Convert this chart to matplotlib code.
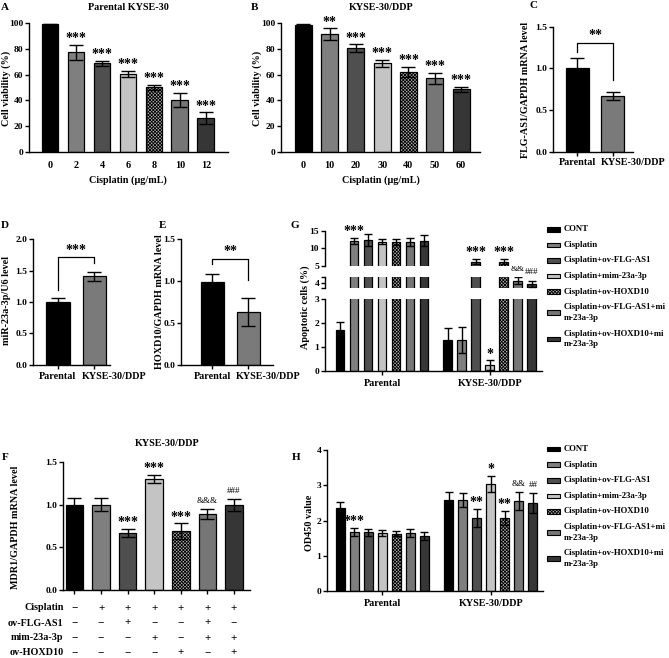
import matplotlib
matplotlib.use("Agg")
import matplotlib.pyplot as plt
import matplotlib.transforms as mtransforms
from matplotlib.patches import Rectangle

plt.rcParams['font.family'] = ['Liberation Serif', 'DejaVu Serif']
plt.rcParams['font.weight'] = 'bold'
plt.rcParams['axes.labelweight'] = 'bold'
plt.rcParams['hatch.linewidth'] = 0.6

W, H = 669, 658
FS = 7.3      # titles, axis labels
TFS = 6.8     # tick labels
LFS = 6.3     # legend text

# ---- data ----
a_doses = ['0', '2', '4', '6', '8', '10', '12']
a_vals = [99.2, 77.4, 68.8, 60.5, 50.1, 40.3, 26.0]
a_err = [0.5, 6.0, 2.0, 2.4, 2.0, 5.7, 4.6]
a_sig = ['', '***', '***', '***', '***', '***', '***']

b_doses = ['0', '10', '20', '30', '40', '50', '60']
b_vals = [98.7, 91.4, 80.5, 68.8, 62.3, 57.1, 48.5]
b_err = [0.6, 4.7, 3.0, 2.6, 4.0, 4.4, 2.0]
b_sig = ['', '**', '***', '***', '***', '***', '***']

cells = ['Parental', 'KYSE-30/DDP']
c_vals = [1.00, 0.67]
c_err = [0.12, 0.05]
d_vals = [1.00, 1.41]
d_err = [0.07, 0.07]
e_vals = [0.99, 0.63]
e_err = [0.10, 0.17]

groups = ['CONT', 'Cisplatin', 'Cisplatin+ov-FLG-AS1', 'Cisplatin+mim-23a-3p',
          'Cisplatin+ov-HOXD10', 'Cisplatin+ov-FLG-AS1+mi\nm-23a-3p',
          'Cisplatin+ov-HOXD10+mi\nm-23a-3p']

f_vals = [1.00, 1.00, 0.67, 1.30, 0.69, 0.89, 0.99]
f_err = [0.08, 0.08, 0.05, 0.05, 0.09, 0.06, 0.07]
f_sig = ['', '', '***', '***', '***', '&&&', '###']
f_rows = ['Cisplatin', 'ov-FLG-AS1', 'mim-23a-3p', 'ov-HOXD10']
f_table = [[0, 1, 1, 1, 1, 1, 1],
           [0, 0, 1, 0, 0, 1, 0],
           [0, 0, 0, 1, 0, 1, 1],
           [0, 0, 0, 0, 1, 0, 1]]

g_par = [1.71, 12.1, 12.4, 11.9, 11.7, 11.7, 12.1]
g_par_err = [0.35, 0.9, 1.8, 0.8, 0.9, 1.1, 1.6]
g_ddp = [1.29, 1.30, 6.2, 0.25, 6.2, 4.16, 3.87]
g_ddp_err = [0.50, 0.55, 0.7, 0.20, 0.7, 0.30, 0.30]
g_par_sig = ['', '***', '', '', '', '', '']
g_ddp_sig = ['', '', '***', '*', '***', '&&', '###']

h_par = [2.36, 1.68, 1.67, 1.64, 1.63, 1.65, 1.56]
h_par_err = [0.17, 0.11, 0.10, 0.09, 0.08, 0.12, 0.12]
h_ddp = [2.58, 2.58, 2.07, 3.04, 2.07, 2.56, 2.50]
h_ddp_err = [0.24, 0.20, 0.26, 0.23, 0.21, 0.25, 0.28]
h_par_sig = ['', '***', '', '', '', '', '']
h_ddp_sig = ['', '', '**', '*', '**', '&&', '##']

colors = ['black', '#7f7f7f', '#4f4f4f', '#c4c4c4', '#b0b0b0', '#767676', '#363636']
hatches = [None, None, None, None, 'xxxxxxxxxx', None, None]
pair_colors = ['black', '#7a7a7a']

fig = plt.figure(figsize=(W / 100, H / 100), dpi=100)


def add_ax(x0, x1, ytop, ybot):
    return fig.add_axes([x0 / W, 1 - ybot / H, (x1 - x0) / W, (ybot - ytop) / H])


def style(ax, bottom=True):
    for s in ['top', 'right']:
        ax.spines[s].set_visible(False)
    ax.spines['left'].set_linewidth(1.0)
    ax.spines['bottom'].set_linewidth(1.0)
    ax.spines['bottom'].set_visible(bottom)
    ax.tick_params(width=1.0, length=3, labelsize=TFS, pad=1.2)
    if not bottom:
        ax.tick_params(axis='x', bottom=False, labelbottom=False)


def draw_bars(ax, x, vals, errs, width, cols, hats, cap):
    for xi, v, c, h in zip(x, vals, cols, hats):
        ax.bar(xi, v, width, color=c, edgecolor='black', linewidth=0.9, hatch=h, zorder=2)
    ax.errorbar(x, vals, yerr=errs, fmt='none', ecolor='black', elinewidth=1.0,
                capsize=cap, capthick=1.0, zorder=3)


def mark(ax, x, y, s, dy=9.5):
    # dy: pixels above the cap to the visual centre of the mark
    if '*' in s:
        ax.annotate(s, (x, y), xytext=(0, dy * 0.72 - 5.0), textcoords='offset points',
                    ha='center', va='baseline', fontsize=10, fontweight='bold',
                    annotation_clip=False)
    else:
        ax.annotate(s, (x, y), xytext=(0, dy * 0.72 - 2.4), textcoords='offset points',
                    ha='center', va='baseline', fontsize=6.5, fontweight='normal',
                    annotation_clip=False)


def ftext(x, y, s, **kw):
    kw.setdefault('fontsize', FS)
    kw.setdefault('ha', 'center')
    kw.setdefault('va', 'center')
    fig.text(x / W, 1 - y / H, s, **kw)


# ---- A ----
axA = add_ax(29, 228, 23.3, 151.7)
xa = list(range(len(a_vals)))
draw_bars(axA, xa, a_vals, a_err, 0.65, colors, hatches, 5)
for i in xa:
    if a_sig[i]:
        mark(axA, i, a_vals[i] + a_err[i], a_sig[i])
axA.set_xlim(-0.81, 6.85)
axA.set_ylim(0, 100)
axA.set_yticks([0, 20, 40, 60, 80, 100])
axA.set_xticks(xa, a_doses)
style(axA)
axA.tick_params(axis='x', length=0, pad=7, labelsize=FS)
ftext(128, 8, 'Parental KYSE-30')
ftext(128, 180, 'Cisplatin (μg/mL)')
ftext(6.5, 88, 'Cell viability (%)', rotation=90)
ftext(5, 8, 'A', fontsize=8)

# ---- B ----
axB = add_ax(281, 480, 23.3, 151.7)
xb = list(range(len(b_vals)))
draw_bars(axB, xb, b_vals, b_err, 0.65, colors, hatches, 5)
for i in xb:
    if b_sig[i]:
        mark(axB, i, b_vals[i] + b_err[i], b_sig[i])
axB.set_xlim(-0.85, 6.72)
axB.set_ylim(0, 100)
axB.set_yticks([0, 20, 40, 60, 80, 100])
axB.set_xticks(xb, b_doses)
style(axB)
axB.tick_params(axis='x', length=0, pad=7, labelsize=FS)
ftext(381, 8, 'KYSE-30/DDP')
ftext(381, 180, 'Cisplatin (μg/mL)')
ftext(257.5, 88, 'Cell viability (%)', rotation=90)
ftext(254, 7, 'B', fontsize=8)


def pair_panel(ax, vals, errs, ylim, yticks, xlim, bracket, stars):
    draw_bars(ax, [0, 1], vals, errs, 0.64, pair_colors, [None, None], 5)
    yb, yl, yr, ys = bracket
    ax.plot([0, 0, 1, 1], [yl, yb, yb, yr], color='black', lw=0.9, clip_on=False)
    ax.text(0.5, ys, stars, ha='center', va='center', fontsize=10, fontweight='bold')
    ax.set_xlim(*xlim)
    ax.set_ylim(*ylim)
    ax.set_yticks(yticks, ['%.1f' % t for t in yticks])
    ax.set_xticks([0, 1], ['', ''])
    style(ax)
    # group labels: first centred, second starts at its bar's left edge
    ax.annotate(cells[0], (0, 0), xycoords=('data', 'axes fraction'), xytext=(0, -8),
                textcoords='offset points', ha='center', va='center', fontsize=FS)
    ax.annotate(cells[1], (1 - 0.34, 0), xycoords=('data', 'axes fraction'), xytext=(0, -8),
                textcoords='offset points', ha='left', va='center', fontsize=FS,
                annotation_clip=False)


# ---- C ----
axC = add_ax(553, 633, 26.7, 151.7)
pair_panel(axC, c_vals, c_err, (0, 1.5), [0.0, 0.5, 1.0, 1.5], (-0.67, 1.56),
           (1.31, 1.20, 0.86, 1.40), '**')
ftext(525, 90, 'FLG-AS1/GAPDH mRNA level', rotation=90)
ftext(534, 5, 'C', fontsize=8)

# ---- D ----
axD = add_ax(33, 110, 239, 365)
pair_panel(axD, d_vals, d_err, (0, 2.0), [0.0, 0.5, 1.0, 1.5, 2.0], (-0.69, 1.44),
           (1.71, 1.19, 1.62, 1.82), '***')
ftext(7, 301, 'miR-23a-3p/U6 level', rotation=90)
ftext(4.5, 225, 'D', fontsize=8)

# ---- E ----
axE = add_ax(181, 273, 239.3, 365)
pair_panel(axE, e_vals, e_err, (0, 1.5), [0.0, 0.5, 1.0, 1.5], (-0.86, 1.68),
           (1.27, 1.20, 1.01, 1.36), '**')
ftext(159.5, 302, 'HOXD10/GAPDH mRNA level', rotation=90)
ftext(162.5, 225, 'E', fontsize=8)

# ---- F ----
axF = add_ax(63.3, 250, 461.7, 590.3)
xf = list(range(len(f_vals)))
draw_bars(axF, xf, f_vals, f_err, 0.66, colors, hatches, 5)
for i in xf:
    if f_sig[i]:
        mark(axF, i, f_vals[i] + f_err[i], f_sig[i])
axF.set_xlim(-0.42, 6.6)
axF.set_ylim(0, 1.5)
axF.set_yticks([0.0, 0.5, 1.0, 1.5], ['0.0', '0.5', '1.0', '1.5'])
axF.set_xticks(xf, [''] * len(xf))
style(axF)
trF = mtransforms.blended_transform_factory(axF.transData, fig.transFigure)
row_y = [608, 623, 638, 652.5]
for r, (lab, flags) in enumerate(zip(f_rows, f_table)):
    yy = 1 - row_y[r] / H
    fig.text(63.5 / W, yy, lab, ha='right', va='center', fontsize=FS)
    for i, f in enumerate(flags):
        axF.text(i, yy, '+' if f else '−', transform=trF, ha='center', va='center',
                 fontsize=8, fontweight='bold')
ftext(167, 444, 'KYSE-30/DDP')
ftext(16, 527, 'MDR1/GAPDH mRNA level', rotation=90)
ftext(5, 457, 'F', fontsize=8)

# ---- G (broken axis) ----
centers = [3, 10.71]
xg_par = [centers[0] + i - 3 for i in range(7)]
xg_ddp = [centers[1] + i - 3 for i in range(7)]
gb = add_ax(325, 542, 299, 371)
gm = add_ax(325, 542, 276.7, 288.3)
gt = add_ax(325, 542, 230.7, 265.7)
for ax in (gb, gm, gt):
    draw_bars(ax, xg_par, g_par, g_par_err, 0.64, colors, hatches, 3)
    draw_bars(ax, xg_ddp, g_ddp, g_ddp_err, 0.64, colors, hatches, 3)
    ax.set_xlim(-1.07, 14.43)
gb.set_ylim(0, 3)
gb.set_yticks([0, 1, 2, 3])
gb.set_xticks(centers, cells)
style(gb)
gb.tick_params(axis='x', pad=3, labelsize=FS)
gm.set_ylim(3.5, 4.5)
gm.set_yticks([3.5, 4, 4.5], ['', '4', ''])
style(gm, bottom=False)
gt.set_ylim(5, 15)
gt.set_yticks([5, 10, 15])
style(gt, bottom=False)
for x, v, e, s in zip(xg_par + xg_ddp, g_par + g_ddp, g_par_err + g_ddp_err,
                      g_par_sig + g_ddp_sig):
    if not s:
        continue
    top = v + e
    if top <= 3:
        mark(gb, x, top, s)
    elif top <= 4.5:
        mark(gm, x, top, s)
    else:
        mark(gt, x, min(top, 13.5), s)
ftext(305, 307, 'Apoptotic cells (%)', rotation=90)
ftext(295, 225, 'G', fontsize=8)

# ---- H ----
axH = add_ax(327, 543, 450, 591)
draw_bars(axH, xg_par, h_par, h_par_err, 0.64, colors, hatches, 3)
draw_bars(axH, xg_ddp, h_ddp, h_ddp_err, 0.64, colors, hatches, 3)
for x, v, e, s in zip(xg_par + xg_ddp, h_par + h_ddp, h_par_err + h_ddp_err,
                      h_par_sig + h_ddp_sig):
    if s:
        mark(axH, x, v + e, s)
axH.set_xlim(-0.93, 14.43)
axH.set_ylim(0, 4)
axH.set_yticks([0, 1, 2, 3, 4])
axH.set_xticks(centers, cells)
style(axH)
axH.tick_params(axis='x', pad=3, labelsize=FS)
ftext(310, 523, 'OD450 value', rotation=90)
ftext(296, 457, 'H', fontsize=8)


# ---- legends ----
def legend_at(xp, xt, y0):
    y = y0
    for lab, c, h in zip(groups, colors, hatches):
        lines = lab.split('\n')
        yc = y + (len(lines) - 1) * 10.6 / 2
        fig.add_artist(Rectangle((xp / W, 1 - (yc + 2.3) / H), 13 / W, 4.6 / H,
                                 transform=fig.transFigure, facecolor=c, hatch=h,
                                 edgecolor='black', linewidth=0.8))
        for k, ln in enumerate(lines):
            ftext(xt, y + k * 10.6, ln, ha='left', fontsize=LFS)
        y += (len(lines) - 1) * 10.6 + 15.6


legend_at(547, 564, 229.3)
legend_at(547, 564, 449)

fig.savefig('out.png', dpi=100)
